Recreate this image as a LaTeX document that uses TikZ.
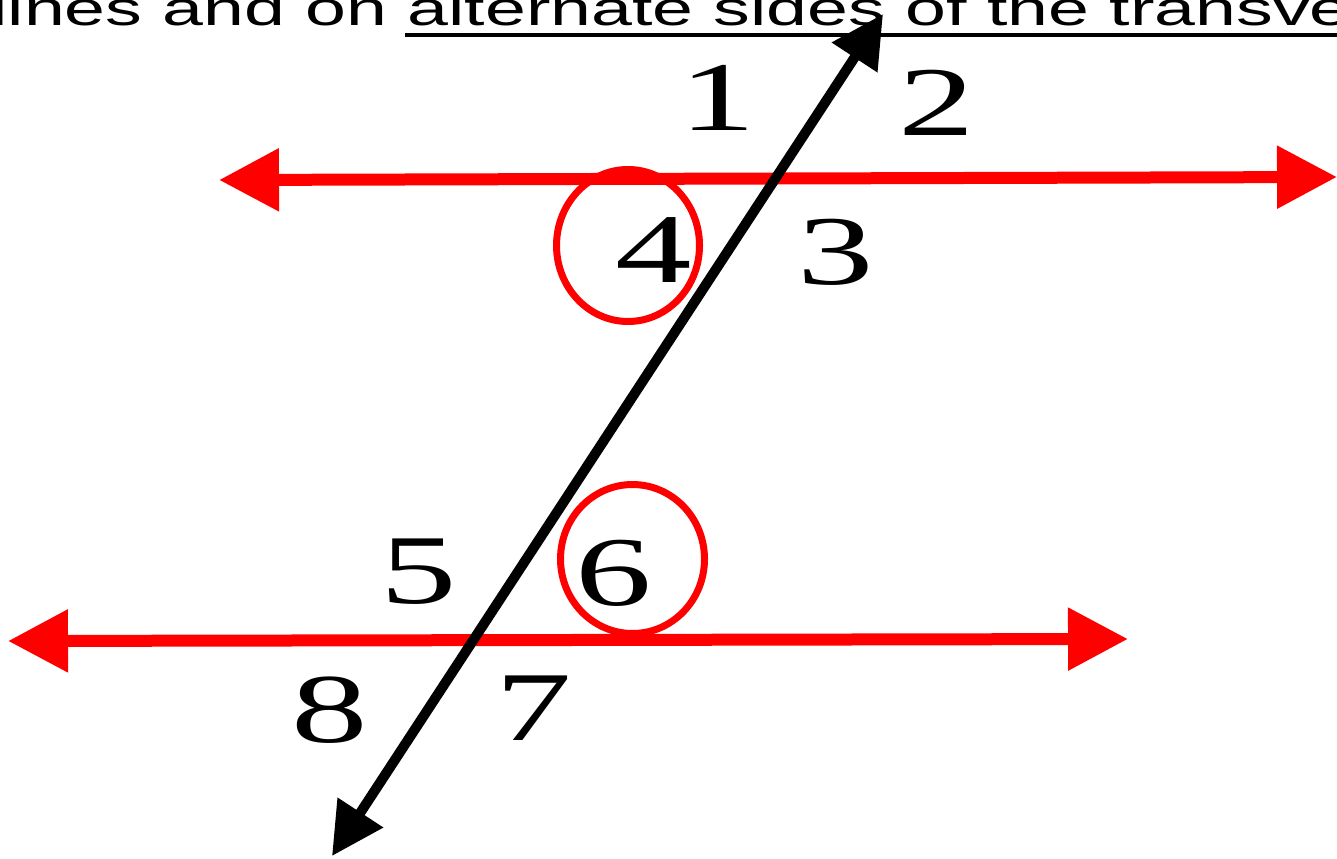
\documentclass[tikz,border=0pt]{standalone}
\usepackage{fontspec}
\setmainfont{Liberation Serif}
\newfontfamily\arialf{Liberation Sans}
\usetikzlibrary{arrows.meta,shapes.geometric}
\definecolor{pred}{RGB}{255,0,0}
\begin{document}
\begin{tikzpicture}[x=0.75pt,y=-0.75pt,
  redline/.style={draw=pred, line width=9pt,
    {Triangle[length=45pt,width=45pt]}-{Triangle[length=45pt,width=45pt]}},
  transv/.style={draw=black, line width=7.5pt,
    {Triangle[length=39pt,width=39pt]}-{Triangle[length=39pt,width=39pt]}},
  ring/.style={draw=pred, line width=5.25pt, ellipse, inner sep=0pt},
  digit/.style={inner sep=0pt, font=\fontsize{74}{74}\selectfont, xscale=1.55},
  title/.style={anchor=base west, inner sep=0pt, font=\arialf\fontsize{36}{40}\selectfont, xscale=1.53}
]
\useasboundingbox (0,0) rectangle (1337,859);
\fill[white] (0,0) rectangle (1337,859);
\clip (0,0) rectangle (1337,859);

% header text
\node[title] (head) at (-9,26) {lines and on alternate sides of the transve};
\coordinate (u1) at (405,35);
\coordinate (u2) at (1337,35);
\draw[line width=3.5pt] (u1) -- (u2);

% parallel red lines
\coordinate (a1) at (219,180);
\coordinate (a2) at (1337,177);
\coordinate (b1) at (8,641);
\coordinate (b2) at (1128,639);
\draw[redline] (a1) -- (a2);
\draw[redline] (b1) -- (b2);

% red rings
\node[ring, minimum width=107.25pt, minimum height=114pt] (c4) at (628,245.5) {};
\node[ring, minimum width=108pt, minimum height=111.75pt] (c6) at (632.5,559) {};

% angle numbers
\node[digit] (n1) at (718,98) {1};
\node[digit] (n2) at (937,103) {2};
\node[digit] (n4) at (654,250) {4};
\node[digit] (n3) at (836,252) {3};
\node[digit] (n5) at (419,572) {5};
\node[digit] (n6) at (614,573) {6};
\node[digit] (n8) at (330,710) {8};
\node[digit] (n7) at (534,708) {7};

% transversal
\coordinate (t1) at (883,14);
\coordinate (t2) at (332,856);
\draw[transv] (t1) -- (t2);
\end{tikzpicture}
\end{document}
